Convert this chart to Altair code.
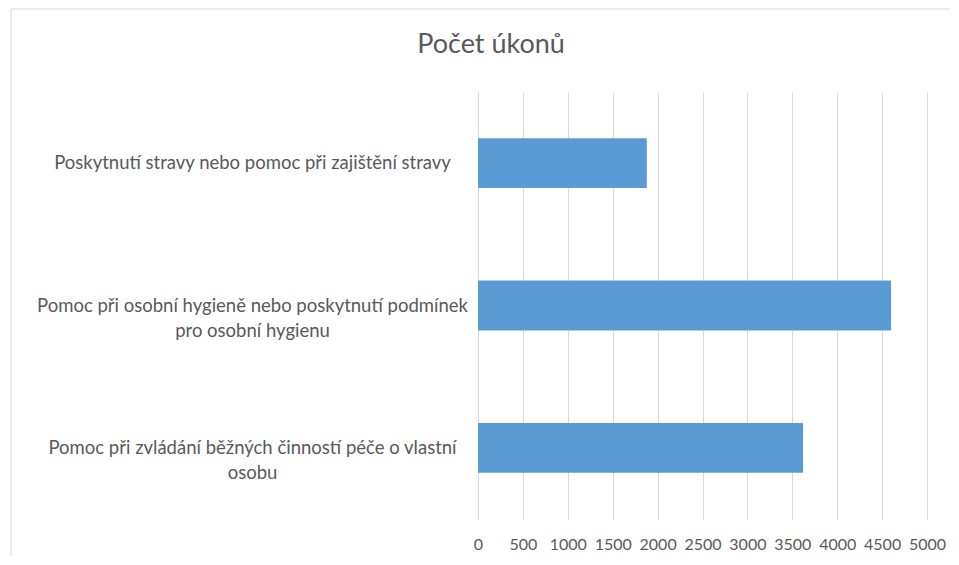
import altair as alt
import pandas as pd

chart_title = "Počet úkonů"
categories = [
    "Poskytnutí stravy nebo pomoc při zajištění stravy",
    "Pomoc při osobní hygieně nebo poskytnutí podmínek\npro osobní hygienu",
    "Pomoc při zvládání běžných činností péče o vlastní\nosobu",
]
values = [1880, 4600, 3620]
x_ticks = [0, 500, 1000, 1500, 2000, 2500, 3000, 3500, 4000, 4500, 5000]

df = pd.DataFrame({"kategorie": categories, "pocet": values})

FONT = "Lato"
GRAY = "#595959"

one = pd.DataFrame({"t": [chart_title]})

frame = alt.Chart(one).mark_rect(
    fill="transparent", stroke="#d9d9d9", strokeWidth=1
).encode(
    x=alt.value(-467), x2=alt.value(700), y=alt.value(-83), y2=alt.value(600)
)

title = alt.Chart(one).mark_text(
    font=FONT, fontSize=27, color=GRAY, align="center", baseline="middle"
).encode(text="t:N", x=alt.value(13), y=alt.value(-47))

bars = alt.Chart(df).mark_bar(color="#5b9bd5").encode(
    x=alt.X(
        "pocet:Q",
        scale=alt.Scale(domain=[0, 5000], nice=False),
        axis=alt.Axis(
            values=x_ticks, title=None, domain=False, ticks=False, format="d",
            grid=True, gridColor="#d9d9d9", gridWidth=1,
            labelFont=FONT, labelFontSize=16, labelColor=GRAY,
            labelPadding=17, labelFlush=False, labelOverlap=False,
        ),
    ),
    y=alt.Y(
        "kategorie:N", sort=None,
        scale=alt.Scale(paddingInner=0.65, paddingOuter=0.325),
        axis=alt.Axis(
            title=None, domain=False, ticks=False, grid=False,
            labelExpr="split(datum.label, '\\n')",
            labelAlign="center", labelPadding=226, labelLimit=0,
            labelFont=FONT, labelFontSize=18.5, labelColor=GRAY,
            labelLineHeight=25,
        ),
    ),
)

chart = alt.layer(frame, title, bars).properties(
    width=449,
    height=427,
    autosize="none",
    padding={"left": 470, "top": 84, "right": 22, "bottom": 37},
).configure_view(stroke=None)

chart.save("out.html", embed_options={"renderer": "svg", "actions": False})
